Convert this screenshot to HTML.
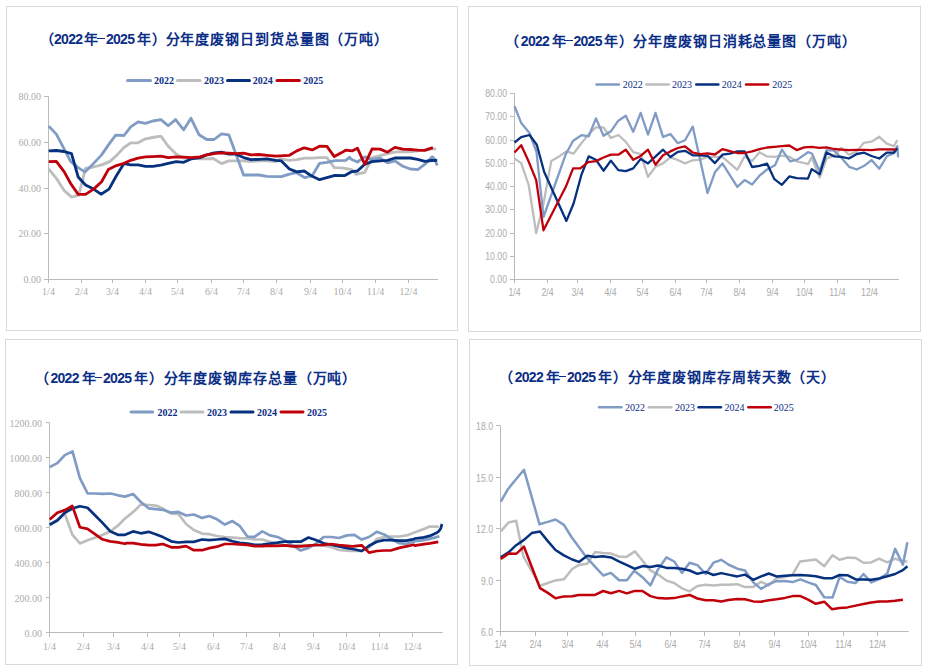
<!DOCTYPE html>
<html lang="zh-CN"><head><meta charset="utf-8"><style>
html,body{margin:0;padding:0;background:#fff;width:928px;height:672px;overflow:hidden}
svg{position:absolute;left:0;top:0}
span{position:absolute;white-space:nowrap;font-family:"Liberation Sans",sans-serif;font-weight:bold;font-size:14px;line-height:16px;color:#0B2E86}
span.d{letter-spacing:-0.7px}
span.m{letter-spacing:0.9px}
i{position:absolute;height:1.6px;background:#0B2E86}
</style></head><body>
<svg width="928" height="672" viewBox="0 0 928 672">
<rect x="6.5" y="6.5" width="451" height="324" fill="#fff" stroke="#D9D9D9" stroke-width="1"/>
<line x1="48.5" y1="96.5" x2="48.5" y2="279.5" stroke="#BABABA" stroke-width="1"/>
<line x1="44.0" y1="279.5" x2="438.0" y2="279.5" stroke="#BABABA" stroke-width="1"/>
<line x1="44.0" y1="279.5" x2="48.5" y2="279.5" stroke="#BABABA" stroke-width="1"/>
<text x="41.0" y="282.6" text-anchor="end" font-family="'Liberation Serif', serif" font-size="10" fill="#ABABAB">0.00</text>
<line x1="44.0" y1="233.5" x2="48.5" y2="233.5" stroke="#BABABA" stroke-width="1"/>
<text x="41.0" y="236.6" text-anchor="end" font-family="'Liberation Serif', serif" font-size="10" fill="#ABABAB">20.00</text>
<line x1="44.0" y1="188.5" x2="48.5" y2="188.5" stroke="#BABABA" stroke-width="1"/>
<text x="41.0" y="191.6" text-anchor="end" font-family="'Liberation Serif', serif" font-size="10" fill="#ABABAB">40.00</text>
<line x1="44.0" y1="142.5" x2="48.5" y2="142.5" stroke="#BABABA" stroke-width="1"/>
<text x="41.0" y="145.6" text-anchor="end" font-family="'Liberation Serif', serif" font-size="10" fill="#ABABAB">60.00</text>
<line x1="44.0" y1="96.5" x2="48.5" y2="96.5" stroke="#BABABA" stroke-width="1"/>
<text x="41.0" y="99.6" text-anchor="end" font-family="'Liberation Serif', serif" font-size="10" fill="#ABABAB">80.00</text>
<line x1="48.5" y1="279.5" x2="48.5" y2="283.0" stroke="#BABABA" stroke-width="1"/>
<text x="48.5" y="295.0" text-anchor="middle" font-family="'Liberation Serif', serif" font-size="10" fill="#ABABAB">1/4</text>
<line x1="81.5" y1="279.5" x2="81.5" y2="283.0" stroke="#BABABA" stroke-width="1"/>
<text x="81.5" y="295.0" text-anchor="middle" font-family="'Liberation Serif', serif" font-size="10" fill="#ABABAB">2/4</text>
<line x1="112.5" y1="279.5" x2="112.5" y2="283.0" stroke="#BABABA" stroke-width="1"/>
<text x="112.5" y="295.0" text-anchor="middle" font-family="'Liberation Serif', serif" font-size="10" fill="#ABABAB">3/4</text>
<line x1="145.5" y1="279.5" x2="145.5" y2="283.0" stroke="#BABABA" stroke-width="1"/>
<text x="145.5" y="295.0" text-anchor="middle" font-family="'Liberation Serif', serif" font-size="10" fill="#ABABAB">4/4</text>
<line x1="177.5" y1="279.5" x2="177.5" y2="283.0" stroke="#BABABA" stroke-width="1"/>
<text x="177.5" y="295.0" text-anchor="middle" font-family="'Liberation Serif', serif" font-size="10" fill="#ABABAB">5/4</text>
<line x1="211.5" y1="279.5" x2="211.5" y2="283.0" stroke="#BABABA" stroke-width="1"/>
<text x="211.5" y="295.0" text-anchor="middle" font-family="'Liberation Serif', serif" font-size="10" fill="#ABABAB">6/4</text>
<line x1="243.5" y1="279.5" x2="243.5" y2="283.0" stroke="#BABABA" stroke-width="1"/>
<text x="243.5" y="295.0" text-anchor="middle" font-family="'Liberation Serif', serif" font-size="10" fill="#ABABAB">7/4</text>
<line x1="276.5" y1="279.5" x2="276.5" y2="283.0" stroke="#BABABA" stroke-width="1"/>
<text x="276.5" y="295.0" text-anchor="middle" font-family="'Liberation Serif', serif" font-size="10" fill="#ABABAB">8/4</text>
<line x1="310.5" y1="279.5" x2="310.5" y2="283.0" stroke="#BABABA" stroke-width="1"/>
<text x="310.5" y="295.0" text-anchor="middle" font-family="'Liberation Serif', serif" font-size="10" fill="#ABABAB">9/4</text>
<line x1="342.5" y1="279.5" x2="342.5" y2="283.0" stroke="#BABABA" stroke-width="1"/>
<text x="342.5" y="295.0" text-anchor="middle" font-family="'Liberation Serif', serif" font-size="10" fill="#ABABAB">10/4</text>
<line x1="375.5" y1="279.5" x2="375.5" y2="283.0" stroke="#BABABA" stroke-width="1"/>
<text x="375.5" y="295.0" text-anchor="middle" font-family="'Liberation Serif', serif" font-size="10" fill="#ABABAB">11/4</text>
<line x1="408.5" y1="279.5" x2="408.5" y2="283.0" stroke="#BABABA" stroke-width="1"/>
<text x="408.5" y="295.0" text-anchor="middle" font-family="'Liberation Serif', serif" font-size="10" fill="#ABABAB">12/4</text>
<line x1="127.5" y1="80.5" x2="150.5" y2="80.5" stroke="#809BC4" stroke-width="3" stroke-linecap="round"/>
<text x="154" y="84.1" font-family="Liberation Serif, serif" font-weight="bold" font-size="10" fill="#0B2E86">2022</text>
<line x1="177.5" y1="80.5" x2="200" y2="80.5" stroke="#BDBDBD" stroke-width="3" stroke-linecap="round"/>
<text x="204" y="84.1" font-family="Liberation Serif, serif" font-weight="bold" font-size="10" fill="#0B2E86">2023</text>
<line x1="227.5" y1="80.5" x2="249.5" y2="80.5" stroke="#06317F" stroke-width="3" stroke-linecap="round"/>
<text x="252.8" y="84.1" font-family="Liberation Serif, serif" font-weight="bold" font-size="10" fill="#0B2E86">2024</text>
<line x1="277" y1="80.5" x2="299.3" y2="80.5" stroke="#BF000B" stroke-width="3" stroke-linecap="round"/>
<text x="303.3" y="84.1" font-family="Liberation Serif, serif" font-weight="bold" font-size="10" fill="#0B2E86">2025</text>
<polyline points="48.7,169.0 56.3,178.3 64.1,190.4 71.5,197.1 78.8,195.1 85.5,168.3 93.6,167.0 101.6,164.9 109.7,161.6 116.4,155.6 124.0,147.5 130.7,142.8 138.1,142.8 145.5,138.8 152.8,137.5 160.9,136.1 168.2,146.2 176.3,154.2 183.7,158.2 191.0,158.2 200.0,158.9 206.7,158.9 213.4,158.5 221.5,163.6 228.8,160.9 236.2,160.9 243.6,160.9 250.9,161.6 259.0,160.9 267.0,160.9 276.0,161.6 280.0,158.9 289.4,160.3 296.8,159.6 304.8,158.2 312.2,158.2 319.6,157.6 326.9,157.6 334.3,167.6 341.7,167.9 352.0,169.6 356.0,174.3 364.8,172.3 372.1,157.6 380.2,155.6 387.5,153.6 394.9,152.2 402.9,151.5 409.4,151.8 417.5,150.8 424.8,150.1 430.9,149.1 436.2,148.8" fill="none" stroke="#BDBDBD" stroke-width="2.8" stroke-linejoin="round" stroke-linecap="butt"/>
<polyline points="48.7,126.1 56.3,134.1 64.1,148.9 70.8,161.6 78.2,167.6 84.9,171.9 92.2,164.9 101.6,154.9 108.3,145.1 115.7,135.2 124.0,135.5 130.7,126.8 138.1,121.8 145.5,123.4 152.8,121.0 160.9,119.6 168.2,125.8 175.6,119.6 183.7,129.8 191.0,118.3 199.1,134.8 206.7,139.5 214.1,139.5 221.5,133.9 228.8,134.8 243.6,175.0 250.9,175.0 259.0,175.0 267.0,176.3 277.4,176.7 281.4,176.7 289.4,174.1 296.8,172.7 304.8,177.7 312.2,175.7 319.6,163.3 326.9,162.3 335.0,160.7 345.7,160.3 349.7,157.2 350.7,158.9 357.4,162.0 364.8,156.9 372.1,159.6 380.2,158.2 387.5,162.9 394.9,160.9 402.9,166.3 410.3,169.0 417.7,169.6 425.7,163.6 432.2,156.8 434.9,159.5 437.2,165.5" fill="none" stroke="#809BC4" stroke-width="2.8" stroke-linejoin="round" stroke-linecap="butt"/>
<polyline points="48.7,150.9 56.3,150.5 64.1,151.5 71.5,153.6 78.2,177.0 85.5,185.0 93.6,189.1 101.0,194.2 109.0,189.1 116.4,175.7 124.0,163.6 130.7,164.9 138.1,164.9 145.5,166.3 152.8,166.3 160.9,165.2 168.2,163.3 176.3,161.6 183.7,162.3 191.0,158.9 200.0,157.6 206.7,154.9 214.1,152.9 221.5,152.2 228.8,154.2 236.2,154.2 243.6,157.6 250.9,159.6 259.0,159.3 267.0,158.9 276.0,160.3 281.4,160.9 289.4,169.0 296.8,171.9 304.2,171.0 312.2,176.3 319.6,179.7 326.9,177.7 335.0,175.4 344.4,175.7 352.0,171.6 357.4,171.0 364.8,164.3 372.1,161.6 380.2,160.9 387.5,160.3 394.9,158.0 402.9,158.0 410.3,158.0 417.7,159.3 424.8,161.3 431.5,160.5 437.2,160.3" fill="none" stroke="#06317F" stroke-width="2.8" stroke-linejoin="round" stroke-linecap="butt"/>
<polyline points="48.7,161.6 56.3,161.3 64.1,171.6 70.8,183.7 78.2,194.4 85.5,194.4 93.6,189.1 101.6,181.7 108.3,169.6 116.4,165.6 124.0,163.3 130.7,160.3 138.1,158.2 145.5,156.9 152.8,156.6 160.9,156.2 168.2,157.6 176.3,156.9 183.7,157.2 191.0,157.6 200.0,156.9 206.7,154.9 214.1,153.6 221.5,152.9 228.8,153.1 236.2,153.6 243.6,153.1 250.9,154.9 259.0,154.5 267.0,155.3 276.0,156.2 280.0,155.8 289.4,155.3 296.8,150.9 304.2,147.8 312.2,149.9 319.6,146.2 326.9,146.4 334.3,156.6 341.7,152.6 345.7,150.2 352.0,150.9 357.4,148.2 364.8,164.3 372.1,148.9 380.2,149.1 387.5,152.2 394.9,147.3 402.9,149.1 410.3,149.5 417.7,150.2 424.8,150.4 428.2,149.1 432.9,147.7" fill="none" stroke="#BF000B" stroke-width="2.8" stroke-linejoin="round" stroke-linecap="butt"/>
<rect x="468.5" y="6.5" width="452" height="325" fill="#fff" stroke="#D9D9D9" stroke-width="1"/>
<line x1="514.5" y1="93.5" x2="514.5" y2="279.5" stroke="#BABABA" stroke-width="1"/>
<line x1="510.0" y1="279.5" x2="899.0" y2="279.5" stroke="#BABABA" stroke-width="1"/>
<line x1="510.0" y1="279.5" x2="514.5" y2="279.5" stroke="#BABABA" stroke-width="1"/>
<text transform="translate(507.0,283.1) scale(0.87,1)" text-anchor="end" font-family="'Liberation Sans', sans-serif" font-size="10" fill="#ABABAB">0.00</text>
<line x1="510.0" y1="256.5" x2="514.5" y2="256.5" stroke="#BABABA" stroke-width="1"/>
<text transform="translate(507.0,260.1) scale(0.87,1)" text-anchor="end" font-family="'Liberation Sans', sans-serif" font-size="10" fill="#ABABAB">10.00</text>
<line x1="510.0" y1="233.5" x2="514.5" y2="233.5" stroke="#BABABA" stroke-width="1"/>
<text transform="translate(507.0,237.1) scale(0.87,1)" text-anchor="end" font-family="'Liberation Sans', sans-serif" font-size="10" fill="#ABABAB">20.00</text>
<line x1="510.0" y1="209.5" x2="514.5" y2="209.5" stroke="#BABABA" stroke-width="1"/>
<text transform="translate(507.0,213.1) scale(0.87,1)" text-anchor="end" font-family="'Liberation Sans', sans-serif" font-size="10" fill="#ABABAB">30.00</text>
<line x1="510.0" y1="186.5" x2="514.5" y2="186.5" stroke="#BABABA" stroke-width="1"/>
<text transform="translate(507.0,190.1) scale(0.87,1)" text-anchor="end" font-family="'Liberation Sans', sans-serif" font-size="10" fill="#ABABAB">40.00</text>
<line x1="510.0" y1="163.5" x2="514.5" y2="163.5" stroke="#BABABA" stroke-width="1"/>
<text transform="translate(507.0,167.1) scale(0.87,1)" text-anchor="end" font-family="'Liberation Sans', sans-serif" font-size="10" fill="#ABABAB">50.00</text>
<line x1="510.0" y1="140.5" x2="514.5" y2="140.5" stroke="#BABABA" stroke-width="1"/>
<text transform="translate(507.0,144.1) scale(0.87,1)" text-anchor="end" font-family="'Liberation Sans', sans-serif" font-size="10" fill="#ABABAB">60.00</text>
<line x1="510.0" y1="116.5" x2="514.5" y2="116.5" stroke="#BABABA" stroke-width="1"/>
<text transform="translate(507.0,120.1) scale(0.87,1)" text-anchor="end" font-family="'Liberation Sans', sans-serif" font-size="10" fill="#ABABAB">70.00</text>
<line x1="510.0" y1="93.5" x2="514.5" y2="93.5" stroke="#BABABA" stroke-width="1"/>
<text transform="translate(507.0,97.1) scale(0.87,1)" text-anchor="end" font-family="'Liberation Sans', sans-serif" font-size="10" fill="#ABABAB">80.00</text>
<line x1="514.5" y1="279.5" x2="514.5" y2="283.0" stroke="#BABABA" stroke-width="1"/>
<text transform="translate(514.5,295.7) scale(0.87,1)" text-anchor="middle" font-family="'Liberation Sans', sans-serif" font-size="10" fill="#ABABAB">1/4</text>
<line x1="547.5" y1="279.5" x2="547.5" y2="283.0" stroke="#BABABA" stroke-width="1"/>
<text transform="translate(547.5,295.7) scale(0.87,1)" text-anchor="middle" font-family="'Liberation Sans', sans-serif" font-size="10" fill="#ABABAB">2/4</text>
<line x1="577.5" y1="279.5" x2="577.5" y2="283.0" stroke="#BABABA" stroke-width="1"/>
<text transform="translate(577.5,295.7) scale(0.87,1)" text-anchor="middle" font-family="'Liberation Sans', sans-serif" font-size="10" fill="#ABABAB">3/4</text>
<line x1="610.5" y1="279.5" x2="610.5" y2="283.0" stroke="#BABABA" stroke-width="1"/>
<text transform="translate(610.5,295.7) scale(0.87,1)" text-anchor="middle" font-family="'Liberation Sans', sans-serif" font-size="10" fill="#ABABAB">4/4</text>
<line x1="642.5" y1="279.5" x2="642.5" y2="283.0" stroke="#BABABA" stroke-width="1"/>
<text transform="translate(642.5,295.7) scale(0.87,1)" text-anchor="middle" font-family="'Liberation Sans', sans-serif" font-size="10" fill="#ABABAB">5/4</text>
<line x1="675.5" y1="279.5" x2="675.5" y2="283.0" stroke="#BABABA" stroke-width="1"/>
<text transform="translate(675.5,295.7) scale(0.87,1)" text-anchor="middle" font-family="'Liberation Sans', sans-serif" font-size="10" fill="#ABABAB">6/4</text>
<line x1="706.5" y1="279.5" x2="706.5" y2="283.0" stroke="#BABABA" stroke-width="1"/>
<text transform="translate(706.5,295.7) scale(0.87,1)" text-anchor="middle" font-family="'Liberation Sans', sans-serif" font-size="10" fill="#ABABAB">7/4</text>
<line x1="739.5" y1="279.5" x2="739.5" y2="283.0" stroke="#BABABA" stroke-width="1"/>
<text transform="translate(739.5,295.7) scale(0.87,1)" text-anchor="middle" font-family="'Liberation Sans', sans-serif" font-size="10" fill="#ABABAB">8/4</text>
<line x1="772.5" y1="279.5" x2="772.5" y2="283.0" stroke="#BABABA" stroke-width="1"/>
<text transform="translate(772.5,295.7) scale(0.87,1)" text-anchor="middle" font-family="'Liberation Sans', sans-serif" font-size="10" fill="#ABABAB">9/4</text>
<line x1="804.5" y1="279.5" x2="804.5" y2="283.0" stroke="#BABABA" stroke-width="1"/>
<text transform="translate(804.5,295.7) scale(0.87,1)" text-anchor="middle" font-family="'Liberation Sans', sans-serif" font-size="10" fill="#ABABAB">10/4</text>
<line x1="837.5" y1="279.5" x2="837.5" y2="283.0" stroke="#BABABA" stroke-width="1"/>
<text transform="translate(837.5,295.7) scale(0.87,1)" text-anchor="middle" font-family="'Liberation Sans', sans-serif" font-size="10" fill="#ABABAB">11/4</text>
<line x1="869.5" y1="279.5" x2="869.5" y2="283.0" stroke="#BABABA" stroke-width="1"/>
<text transform="translate(869.5,295.7) scale(0.87,1)" text-anchor="middle" font-family="'Liberation Sans', sans-serif" font-size="10" fill="#ABABAB">12/4</text>
<line x1="596.5" y1="84.5" x2="619" y2="84.5" stroke="#809BC4" stroke-width="2.4" stroke-linecap="round"/>
<text x="622.8" y="88.1" font-family="Liberation Serif, serif" font-weight="normal" font-size="10" fill="#0B2E86">2022</text>
<line x1="646.4" y1="84.5" x2="668.7" y2="84.5" stroke="#BDBDBD" stroke-width="2.4" stroke-linecap="round"/>
<text x="671.9" y="88.1" font-family="Liberation Serif, serif" font-weight="normal" font-size="10" fill="#0B2E86">2023</text>
<line x1="696.2" y1="84.5" x2="718.4" y2="84.5" stroke="#06317F" stroke-width="2.4" stroke-linecap="round"/>
<text x="721.7" y="88.1" font-family="Liberation Serif, serif" font-weight="normal" font-size="10" fill="#0B2E86">2024</text>
<line x1="746" y1="84.5" x2="768.2" y2="84.5" stroke="#BF000B" stroke-width="2.4" stroke-linecap="round"/>
<text x="772.2" y="88.1" font-family="Liberation Serif, serif" font-weight="normal" font-size="10" fill="#0B2E86">2025</text>
<polyline points="514.5,158.6 521.2,163.1 528.7,185.0 536.2,233.1 543.6,203.0 551.3,160.9 559.1,156.4 566.4,151.4 573.6,153.6 581.5,143.0 588.7,134.1 596.0,127.4 603.5,127.4 610.9,138.0 618.3,135.0 625.8,141.9 633.2,152.2 640.7,154.2 648.0,176.8 655.5,166.7 663.0,163.4 670.4,157.3 677.8,160.0 685.0,163.4 692.7,160.3 700.1,159.7 707.5,156.9 722.4,156.9 737.3,169.8 744.6,156.4 752.1,160.9 759.5,152.3 767.0,156.4 774.4,156.8 781.9,155.7 789.3,156.8 796.7,161.3 804.2,163.0 808.0,164.1 811.7,157.4 819.7,177.5 826.5,158.5 834.0,155.7 841.4,147.9 848.9,154.6 856.4,151.9 863.7,142.9 871.5,141.7 879.3,136.8 886.7,143.7 894.0,146.2 897.3,140.1" fill="none" stroke="#BDBDBD" stroke-width="2.3" stroke-linejoin="round" stroke-linecap="butt"/>
<polyline points="514.5,106.2 521.2,122.9 529.5,133.0 536.5,152.0 543.5,217.0 565.8,154.2 573.1,140.8 581.5,135.2 588.7,136.3 596.0,118.4 603.5,135.8 610.9,131.3 618.3,120.7 625.8,115.7 633.2,131.8 640.7,112.9 648.0,134.6 655.5,112.9 663.0,136.9 670.4,134.1 677.8,143.2 685.0,140.2 692.7,126.6 707.5,193.0 714.9,172.3 722.4,163.4 737.3,186.8 744.6,180.1 752.1,184.6 759.5,175.7 767.0,169.5 775.0,165.2 781.9,149.6 790.1,161.3 797.4,159.6 808.0,152.2 811.9,153.5 819.7,171.4 826.5,150.1 834.2,150.7 842.0,158.5 849.3,166.9 856.8,169.5 864.2,165.8 871.5,160.1 879.3,168.7 887.1,156.0 893.2,153.6 897.3,146.2 898.1,157.3" fill="none" stroke="#809BC4" stroke-width="2.3" stroke-linejoin="round" stroke-linecap="butt"/>
<polyline points="514.5,142.5 521.2,137.2 529.5,135.0 536.8,144.7 544.2,172.0 566.4,220.9 573.6,203.5 581.5,174.5 588.7,156.4 596.0,159.8 603.5,170.7 610.9,160.6 618.3,170.1 625.8,171.2 633.2,168.4 640.7,158.9 648.0,163.4 663.0,149.7 670.4,157.0 677.8,151.9 685.1,150.8 692.7,155.3 700.1,155.3 707.5,155.8 714.9,163.1 722.4,154.7 729.8,153.6 737.3,151.4 744.6,151.4 752.1,167.0 759.5,165.9 767.0,163.6 774.4,179.2 781.9,184.8 789.3,176.4 796.7,178.1 807.9,178.6 811.7,169.1 819.7,174.2 826.5,152.4 834.0,156.3 841.4,156.8 848.9,158.5 856.8,154.0 864.2,152.7 871.5,156.0 879.3,158.5 886.7,152.7 894.0,152.7 897.3,148.2" fill="none" stroke="#06317F" stroke-width="2.3" stroke-linejoin="round" stroke-linecap="butt"/>
<polyline points="514.5,152.5 521.2,145.2 528.0,160.0 536.2,180.1 543.5,230.3 565.8,186.8 573.1,168.4 580.3,168.4 588.2,162.2 596.0,161.1 603.5,157.5 610.9,154.7 618.3,154.7 625.8,149.7 633.2,159.8 640.7,155.9 648.0,149.7 655.5,164.8 663.0,155.3 670.4,151.4 677.8,148.0 685.0,146.4 692.7,152.5 700.1,154.2 707.5,153.4 714.9,154.5 722.4,149.1 729.8,151.1 737.3,153.0 744.6,153.0 752.1,151.4 759.5,149.1 767.0,147.5 774.4,146.8 781.9,146.2 789.3,145.5 796.7,150.1 804.2,147.4 811.7,146.8 819.0,147.9 826.5,147.4 834.0,149.0 841.4,149.6 848.9,150.1 856.8,149.9 864.2,149.9 871.5,150.1 879.3,149.3 886.7,149.3 894.0,149.5 895.7,149.1" fill="none" stroke="#BF000B" stroke-width="2.3" stroke-linejoin="round" stroke-linecap="butt"/>
<rect x="5.5" y="339.5" width="452" height="325" fill="#fff" stroke="#D9D9D9" stroke-width="1"/>
<line x1="49.5" y1="422.5" x2="49.5" y2="632.5" stroke="#BABABA" stroke-width="1"/>
<line x1="46.0" y1="632.5" x2="442.70000000000005" y2="632.5" stroke="#BABABA" stroke-width="1"/>
<line x1="46.0" y1="632.5" x2="49.5" y2="632.5" stroke="#BABABA" stroke-width="1"/>
<text x="42.0" y="636.6" text-anchor="end" font-family="'Liberation Serif', serif" font-size="10" fill="#ABABAB">0.00</text>
<line x1="46.0" y1="597.5" x2="49.5" y2="597.5" stroke="#BABABA" stroke-width="1"/>
<text x="42.0" y="601.6" text-anchor="end" font-family="'Liberation Serif', serif" font-size="10" fill="#ABABAB">200.00</text>
<line x1="46.0" y1="562.5" x2="49.5" y2="562.5" stroke="#BABABA" stroke-width="1"/>
<text x="42.0" y="566.6" text-anchor="end" font-family="'Liberation Serif', serif" font-size="10" fill="#ABABAB">400.00</text>
<line x1="46.0" y1="527.5" x2="49.5" y2="527.5" stroke="#BABABA" stroke-width="1"/>
<text x="42.0" y="531.6" text-anchor="end" font-family="'Liberation Serif', serif" font-size="10" fill="#ABABAB">600.00</text>
<line x1="46.0" y1="492.5" x2="49.5" y2="492.5" stroke="#BABABA" stroke-width="1"/>
<text x="42.0" y="496.6" text-anchor="end" font-family="'Liberation Serif', serif" font-size="10" fill="#ABABAB">800.00</text>
<line x1="46.0" y1="457.5" x2="49.5" y2="457.5" stroke="#BABABA" stroke-width="1"/>
<text x="42.0" y="461.6" text-anchor="end" font-family="'Liberation Serif', serif" font-size="10" fill="#ABABAB">1000.00</text>
<line x1="46.0" y1="422.5" x2="49.5" y2="422.5" stroke="#BABABA" stroke-width="1"/>
<text x="42.0" y="426.6" text-anchor="end" font-family="'Liberation Serif', serif" font-size="10" fill="#ABABAB">1200.00</text>
<line x1="49.5" y1="632.5" x2="49.5" y2="637.0" stroke="#BABABA" stroke-width="1"/>
<text x="49.5" y="649.5" text-anchor="middle" font-family="'Liberation Serif', serif" font-size="10" fill="#ABABAB">1/4</text>
<line x1="83.5" y1="632.5" x2="83.5" y2="637.0" stroke="#BABABA" stroke-width="1"/>
<text x="83.5" y="649.5" text-anchor="middle" font-family="'Liberation Serif', serif" font-size="10" fill="#ABABAB">2/4</text>
<line x1="113.5" y1="632.5" x2="113.5" y2="637.0" stroke="#BABABA" stroke-width="1"/>
<text x="113.5" y="649.5" text-anchor="middle" font-family="'Liberation Serif', serif" font-size="10" fill="#ABABAB">3/4</text>
<line x1="147.5" y1="632.5" x2="147.5" y2="637.0" stroke="#BABABA" stroke-width="1"/>
<text x="147.5" y="649.5" text-anchor="middle" font-family="'Liberation Serif', serif" font-size="10" fill="#ABABAB">4/4</text>
<line x1="179.5" y1="632.5" x2="179.5" y2="637.0" stroke="#BABABA" stroke-width="1"/>
<text x="179.5" y="649.5" text-anchor="middle" font-family="'Liberation Serif', serif" font-size="10" fill="#ABABAB">5/4</text>
<line x1="213.5" y1="632.5" x2="213.5" y2="637.0" stroke="#BABABA" stroke-width="1"/>
<text x="213.5" y="649.5" text-anchor="middle" font-family="'Liberation Serif', serif" font-size="10" fill="#ABABAB">6/4</text>
<line x1="246.5" y1="632.5" x2="246.5" y2="637.0" stroke="#BABABA" stroke-width="1"/>
<text x="246.5" y="649.5" text-anchor="middle" font-family="'Liberation Serif', serif" font-size="10" fill="#ABABAB">7/4</text>
<line x1="279.5" y1="632.5" x2="279.5" y2="637.0" stroke="#BABABA" stroke-width="1"/>
<text x="279.5" y="649.5" text-anchor="middle" font-family="'Liberation Serif', serif" font-size="10" fill="#ABABAB">8/4</text>
<line x1="313.5" y1="632.5" x2="313.5" y2="637.0" stroke="#BABABA" stroke-width="1"/>
<text x="313.5" y="649.5" text-anchor="middle" font-family="'Liberation Serif', serif" font-size="10" fill="#ABABAB">9/4</text>
<line x1="346.5" y1="632.5" x2="346.5" y2="637.0" stroke="#BABABA" stroke-width="1"/>
<text x="346.5" y="649.5" text-anchor="middle" font-family="'Liberation Serif', serif" font-size="10" fill="#ABABAB">10/4</text>
<line x1="379.5" y1="632.5" x2="379.5" y2="637.0" stroke="#BABABA" stroke-width="1"/>
<text x="379.5" y="649.5" text-anchor="middle" font-family="'Liberation Serif', serif" font-size="10" fill="#ABABAB">11/4</text>
<line x1="412.5" y1="632.5" x2="412.5" y2="637.0" stroke="#BABABA" stroke-width="1"/>
<text x="412.5" y="649.5" text-anchor="middle" font-family="'Liberation Serif', serif" font-size="10" fill="#ABABAB">12/4</text>
<line x1="131" y1="412" x2="152.7" y2="412" stroke="#809BC4" stroke-width="3" stroke-linecap="round"/>
<text x="157.4" y="415.6" font-family="Liberation Serif, serif" font-weight="bold" font-size="10" fill="#0B2E86">2022</text>
<line x1="181" y1="412" x2="203" y2="412" stroke="#BDBDBD" stroke-width="3" stroke-linecap="round"/>
<text x="207" y="415.6" font-family="Liberation Serif, serif" font-weight="bold" font-size="10" fill="#0B2E86">2023</text>
<line x1="231" y1="412" x2="253" y2="412" stroke="#06317F" stroke-width="3" stroke-linecap="round"/>
<text x="257" y="415.6" font-family="Liberation Serif, serif" font-weight="bold" font-size="10" fill="#0B2E86">2024</text>
<line x1="281" y1="412" x2="303" y2="412" stroke="#BF000B" stroke-width="3" stroke-linecap="round"/>
<text x="307" y="415.6" font-family="Liberation Serif, serif" font-weight="bold" font-size="10" fill="#0B2E86">2025</text>
<polyline points="49.7,524.2 57.3,519.8 64.8,513.8 72.3,534.6 79.9,543.4 87.5,540.3 95.0,537.7 102.3,535.1 110.1,531.5 117.9,525.7 125.0,518.4 127.1,516.9 134.3,511.0 140.8,504.4 148.6,505.0 155.7,505.6 162.9,508.6 171.2,513.7 178.3,513.9 186.1,524.0 193.8,530.0 202.1,533.6 209.3,534.2 217.0,536.0 224.8,537.1 232.5,537.7 239.6,538.1 247.4,538.3 254.5,539.3 262.3,539.5 270.0,541.9 277.6,544.3 285.2,545.0 292.9,545.3 300.7,545.0 308.5,545.3 315.8,545.3 324.2,545.6 332.5,547.4 338.8,550.0 350.0,551.0 361.7,551.0 369.0,547.9 376.8,539.1 384.1,537.0 390.8,536.5 399.2,536.5 406.5,535.4 413.8,532.8 425.0,528.6 429.8,526.6 438.7,526.6" fill="none" stroke="#BDBDBD" stroke-width="2.7" stroke-linejoin="round" stroke-linecap="butt"/>
<polyline points="49.7,467.1 57.3,463.1 64.8,455.1 72.5,451.4 79.8,477.8 87.6,493.5 95.3,493.5 102.6,493.9 110.7,493.5 118.0,495.3 125.0,496.6 133.1,494.0 140.8,502.0 148.6,508.3 155.7,509.2 162.9,509.8 171.2,512.7 178.3,511.9 186.1,515.5 193.8,514.5 202.1,517.9 209.3,516.0 217.0,519.3 224.8,524.6 232.5,521.1 239.6,525.8 247.4,536.5 254.5,536.9 262.3,531.4 270.0,535.4 277.6,537.0 285.2,540.6 300.7,550.5 308.5,547.9 315.8,543.8 323.6,537.0 331.5,537.0 338.8,538.0 347.1,535.4 354.4,534.9 361.7,539.6 369.0,537.0 376.8,531.8 384.1,534.4 390.8,538.5 399.2,543.2 406.5,543.8 413.8,541.7 414.9,541.1 422.3,540.3 429.8,538.9 435.7,537.4 439.4,536.2" fill="none" stroke="#809BC4" stroke-width="2.7" stroke-linejoin="round" stroke-linecap="butt"/>
<polyline points="49.7,524.7 57.3,520.5 64.8,512.7 72.3,508.5 79.9,506.2 87.5,507.7 95.0,515.3 102.3,522.6 110.1,531.2 117.9,534.8 125.0,534.8 133.1,531.4 140.8,533.3 148.6,531.8 155.7,534.2 162.9,537.1 171.2,541.3 178.3,542.5 186.1,541.9 193.8,541.9 202.1,539.5 209.3,540.1 217.0,539.5 224.8,538.9 232.5,541.3 239.6,542.9 247.4,543.7 254.5,544.9 262.3,544.5 270.0,543.7 277.6,542.7 285.2,541.5 292.9,541.7 300.7,541.7 308.5,537.5 315.8,540.1 323.6,543.2 331.5,544.8 338.8,546.4 347.1,548.1 352.6,549.0 361.7,551.0 369.0,545.8 376.8,541.7 384.1,540.1 390.8,540.1 399.2,540.6 406.5,540.6 413.8,539.1 414.9,538.5 422.3,537.7 429.8,535.9 435.7,533.3 438.7,531.4 440.6,528.8 442.0,524.0" fill="none" stroke="#06317F" stroke-width="2.7" stroke-linejoin="round" stroke-linecap="butt"/>
<polyline points="49.7,519.5 57.3,512.7 64.8,510.1 72.3,505.9 79.9,527.3 87.5,528.9 95.0,534.1 102.3,539.3 110.1,541.4 117.9,542.4 125.0,543.8 126.0,543.1 133.1,543.1 140.8,544.3 148.6,545.2 155.7,545.2 162.9,544.0 171.2,547.3 178.3,547.3 186.1,546.1 193.8,550.2 202.1,550.2 209.3,548.1 217.0,546.7 224.8,544.0 232.5,544.0 239.6,544.3 247.4,544.9 254.5,546.1 262.3,546.1 270.0,545.7 277.6,545.8 285.2,545.3 292.9,546.4 300.7,546.4 308.5,545.6 315.8,545.0 323.6,544.8 331.5,544.0 338.8,545.0 347.1,545.8 352.6,546.4 361.7,545.3 369.0,552.6 376.8,551.0 384.1,550.5 390.8,550.5 399.2,547.9 406.5,546.4 413.8,544.8 414.9,545.6 422.3,544.4 429.8,543.3 438.3,541.8" fill="none" stroke="#BF000B" stroke-width="2.7" stroke-linejoin="round" stroke-linecap="butt"/>
<rect x="469.5" y="339.5" width="452" height="326" fill="#fff" stroke="#D9D9D9" stroke-width="1"/>
<line x1="500.5" y1="425.5" x2="500.5" y2="631.5" stroke="#BABABA" stroke-width="1"/>
<line x1="496.0" y1="631.5" x2="908.8" y2="631.5" stroke="#BABABA" stroke-width="1"/>
<line x1="496.0" y1="631.5" x2="500.5" y2="631.5" stroke="#BABABA" stroke-width="1"/>
<text transform="translate(493.0,636.1) scale(0.87,1)" text-anchor="end" font-family="'Liberation Sans', sans-serif" font-size="10" fill="#ABABAB">6.0</text>
<line x1="496.0" y1="580.5" x2="500.5" y2="580.5" stroke="#BABABA" stroke-width="1"/>
<text transform="translate(493.0,585.1) scale(0.87,1)" text-anchor="end" font-family="'Liberation Sans', sans-serif" font-size="10" fill="#ABABAB">9.0</text>
<line x1="496.0" y1="528.5" x2="500.5" y2="528.5" stroke="#BABABA" stroke-width="1"/>
<text transform="translate(493.0,533.1) scale(0.87,1)" text-anchor="end" font-family="'Liberation Sans', sans-serif" font-size="10" fill="#ABABAB">12.0</text>
<line x1="496.0" y1="477.5" x2="500.5" y2="477.5" stroke="#BABABA" stroke-width="1"/>
<text transform="translate(493.0,482.1) scale(0.87,1)" text-anchor="end" font-family="'Liberation Sans', sans-serif" font-size="10" fill="#ABABAB">15.0</text>
<line x1="496.0" y1="425.5" x2="500.5" y2="425.5" stroke="#BABABA" stroke-width="1"/>
<text transform="translate(493.0,430.1) scale(0.87,1)" text-anchor="end" font-family="'Liberation Sans', sans-serif" font-size="10" fill="#ABABAB">18.0</text>
<line x1="500.5" y1="631.5" x2="500.5" y2="636.0" stroke="#BABABA" stroke-width="1"/>
<text transform="translate(500.5,648.0) scale(0.87,1)" text-anchor="middle" font-family="'Liberation Sans', sans-serif" font-size="10" fill="#ABABAB">1/4</text>
<line x1="535.5" y1="631.5" x2="535.5" y2="636.0" stroke="#BABABA" stroke-width="1"/>
<text transform="translate(535.5,648.0) scale(0.87,1)" text-anchor="middle" font-family="'Liberation Sans', sans-serif" font-size="10" fill="#ABABAB">2/4</text>
<line x1="567.5" y1="631.5" x2="567.5" y2="636.0" stroke="#BABABA" stroke-width="1"/>
<text transform="translate(567.5,648.0) scale(0.87,1)" text-anchor="middle" font-family="'Liberation Sans', sans-serif" font-size="10" fill="#ABABAB">3/4</text>
<line x1="602.5" y1="631.5" x2="602.5" y2="636.0" stroke="#BABABA" stroke-width="1"/>
<text transform="translate(602.5,648.0) scale(0.87,1)" text-anchor="middle" font-family="'Liberation Sans', sans-serif" font-size="10" fill="#ABABAB">4/4</text>
<line x1="635.5" y1="631.5" x2="635.5" y2="636.0" stroke="#BABABA" stroke-width="1"/>
<text transform="translate(635.5,648.0) scale(0.87,1)" text-anchor="middle" font-family="'Liberation Sans', sans-serif" font-size="10" fill="#ABABAB">5/4</text>
<line x1="670.5" y1="631.5" x2="670.5" y2="636.0" stroke="#BABABA" stroke-width="1"/>
<text transform="translate(670.5,648.0) scale(0.87,1)" text-anchor="middle" font-family="'Liberation Sans', sans-serif" font-size="10" fill="#ABABAB">6/4</text>
<line x1="704.5" y1="631.5" x2="704.5" y2="636.0" stroke="#BABABA" stroke-width="1"/>
<text transform="translate(704.5,648.0) scale(0.87,1)" text-anchor="middle" font-family="'Liberation Sans', sans-serif" font-size="10" fill="#ABABAB">7/4</text>
<line x1="739.5" y1="631.5" x2="739.5" y2="636.0" stroke="#BABABA" stroke-width="1"/>
<text transform="translate(739.5,648.0) scale(0.87,1)" text-anchor="middle" font-family="'Liberation Sans', sans-serif" font-size="10" fill="#ABABAB">8/4</text>
<line x1="774.5" y1="631.5" x2="774.5" y2="636.0" stroke="#BABABA" stroke-width="1"/>
<text transform="translate(774.5,648.0) scale(0.87,1)" text-anchor="middle" font-family="'Liberation Sans', sans-serif" font-size="10" fill="#ABABAB">9/4</text>
<line x1="808.5" y1="631.5" x2="808.5" y2="636.0" stroke="#BABABA" stroke-width="1"/>
<text transform="translate(808.5,648.0) scale(0.87,1)" text-anchor="middle" font-family="'Liberation Sans', sans-serif" font-size="10" fill="#ABABAB">10/4</text>
<line x1="843.5" y1="631.5" x2="843.5" y2="636.0" stroke="#BABABA" stroke-width="1"/>
<text transform="translate(843.5,648.0) scale(0.87,1)" text-anchor="middle" font-family="'Liberation Sans', sans-serif" font-size="10" fill="#ABABAB">11/4</text>
<line x1="877.5" y1="631.5" x2="877.5" y2="636.0" stroke="#BABABA" stroke-width="1"/>
<text transform="translate(877.5,648.0) scale(0.87,1)" text-anchor="middle" font-family="'Liberation Sans', sans-serif" font-size="10" fill="#ABABAB">12/4</text>
<line x1="599" y1="407.2" x2="621.5" y2="407.2" stroke="#809BC4" stroke-width="2.4" stroke-linecap="round"/>
<text x="625" y="410.8" font-family="Liberation Serif, serif" font-weight="normal" font-size="10" fill="#0B2E86">2022</text>
<line x1="648.7" y1="407.2" x2="671.3" y2="407.2" stroke="#BDBDBD" stroke-width="2.4" stroke-linecap="round"/>
<text x="674.9" y="410.8" font-family="Liberation Serif, serif" font-weight="normal" font-size="10" fill="#0B2E86">2023</text>
<line x1="698.5" y1="407.2" x2="721" y2="407.2" stroke="#06317F" stroke-width="2.4" stroke-linecap="round"/>
<text x="724.6" y="410.8" font-family="Liberation Serif, serif" font-weight="normal" font-size="10" fill="#0B2E86">2024</text>
<line x1="748.3" y1="407.2" x2="770.8" y2="407.2" stroke="#BF000B" stroke-width="2.4" stroke-linecap="round"/>
<text x="773.8" y="410.8" font-family="Liberation Serif, serif" font-weight="normal" font-size="10" fill="#0B2E86">2025</text>
<polyline points="500.8,531.4 508.5,522.5 516.2,520.7 523.4,556.5 540.0,585.7 555.5,580.4 563.9,579.2 572.2,569.0 578.9,564.9 587.3,563.7 595.0,552.1 602.7,553.0 611.1,553.6 618.8,556.5 626.5,556.9 634.9,551.4 642.6,560.7 650.0,570.2 658.1,574.6 666.4,580.6 674.2,583.0 681.9,588.3 689.6,591.3 697.4,586.0 705.7,584.8 713.5,585.4 721.2,584.8 728.3,584.8 737.3,584.2 745.0,587.1 753.3,586.9 761.1,581.8 768.8,585.4 776.5,578.2 784.9,577.0 792.6,574.6 800.0,561.5 808.1,560.4 815.8,559.5 824.2,566.3 832.5,555.2 839.6,559.8 847.4,557.6 855.7,558.0 863.5,562.7 871.2,562.4 879.0,558.7 887.3,562.3 895.1,558.7 902.9,561.2 907.4,561.6" fill="none" stroke="#BDBDBD" stroke-width="2.5" stroke-linejoin="round" stroke-linecap="butt"/>
<polyline points="500.8,501.7 507.9,489.2 516.2,479.0 524.0,469.8 539.5,524.3 547.8,521.9 555.5,519.5 563.9,524.9 571.8,537.5 578.9,547.0 586.7,557.7 595.0,566.7 603.2,575.5 610.9,572.9 619.1,580.3 626.9,580.3 634.2,570.8 642.4,577.2 650.4,585.4 658.1,569.3 666.4,557.4 674.2,561.5 681.9,572.9 689.6,562.7 697.4,565.1 705.7,574.0 713.5,562.7 721.2,559.8 728.3,564.5 737.3,568.7 745.0,570.5 753.3,582.4 761.1,588.9 768.8,584.2 776.5,581.2 784.9,581.0 792.6,582.1 800.4,579.4 808.1,582.4 815.8,585.0 824.2,597.3 832.5,597.6 839.6,577.0 847.4,581.8 855.7,583.0 863.5,574.0 871.2,582.4 879.0,579.1 887.3,573.5 895.1,548.9 902.9,564.6 907.4,542.3" fill="none" stroke="#809BC4" stroke-width="2.5" stroke-linejoin="round" stroke-linecap="butt"/>
<polyline points="500.8,557.4 508.5,552.4 516.2,545.2 524.0,539.9 531.7,533.1 540.0,531.5 547.8,541.1 555.5,550.0 563.9,555.4 572.2,559.5 578.9,561.9 587.3,555.7 595.0,556.9 602.7,556.2 611.1,557.4 618.8,561.3 626.5,564.9 634.9,568.8 642.6,566.1 650.4,566.9 658.1,565.5 666.4,567.9 674.2,568.1 681.9,568.7 689.6,570.5 697.4,573.8 705.7,571.9 713.5,575.0 721.2,573.1 728.3,574.6 737.3,576.4 745.0,574.6 753.3,579.8 761.1,576.4 768.8,573.5 776.5,576.4 784.9,575.8 792.6,575.2 800.4,575.0 808.1,575.5 815.8,576.2 824.2,578.2 832.5,578.2 839.6,575.0 847.4,575.2 855.7,579.4 863.5,579.4 871.2,579.8 879.0,578.5 887.3,576.3 895.1,574.0 902.9,570.1 907.4,566.2" fill="none" stroke="#06317F" stroke-width="2.5" stroke-linejoin="round" stroke-linecap="butt"/>
<polyline points="500.8,558.9 508.5,553.6 516.2,553.8 524.0,546.7 531.7,566.7 540.0,588.1 547.8,592.9 555.5,598.2 563.9,596.4 572.2,596.2 578.6,594.9 587.2,594.9 595.0,594.9 603.2,591.0 610.9,593.2 619.1,590.9 626.9,593.4 634.7,590.9 642.4,591.0 650.4,596.1 658.1,598.1 666.4,598.5 674.2,598.1 681.9,596.4 689.6,594.9 697.4,598.5 705.7,600.2 713.5,600.2 721.2,601.4 728.3,600.0 737.3,599.0 745.0,599.3 753.3,601.4 761.1,601.7 768.8,600.2 776.5,599.3 784.9,597.9 792.6,596.1 800.4,596.1 808.1,599.6 815.8,603.8 824.2,601.7 831.9,609.2 839.6,608.0 847.4,607.4 855.7,605.6 863.5,604.0 871.2,602.6 879.0,601.4 887.3,601.4 895.1,600.8 902.9,599.7" fill="none" stroke="#BF000B" stroke-width="2.5" stroke-linejoin="round" stroke-linecap="butt"/>
</svg>
<span class="" style="left:39.6px;top:31px">（</span><span class="d" style="left:54.0px;top:31px">2022</span><span class="" style="left:83.8px;top:31px">年</span><i style="left:97.0px;top:37.7px;width:8.0px"></i><span class="d" style="left:105.9px;top:31px">2025</span><span class="" style="left:136.6px;top:31px">年</span><span class="" style="left:152.0px;top:31px">）</span><span class="m" style="left:165.6px;top:31px">分年度废钢日到货总量图（万吨）</span>
<span class="" style="left:505.4px;top:33px">（</span><span class="d" style="left:520.8px;top:33px">2022</span><span class="" style="left:551.5px;top:33px">年</span><i style="left:563.5px;top:39.7px;width:9.4px"></i><span class="d" style="left:573.4px;top:33px">2025</span><span class="" style="left:604.0px;top:33px">年</span><span class="" style="left:619.0px;top:33px">）</span><span class="m" style="left:633.3px;top:33px">分年度废钢日消耗总量图（万吨）</span>
<span class="" style="left:35.1px;top:370px">（</span><span class="d" style="left:50.4px;top:370px">2022</span><span class="" style="left:81.9px;top:370px">年</span><i style="left:95.0px;top:376.7px;width:7.2px"></i><span class="d" style="left:103.0px;top:370px">2025</span><span class="" style="left:133.8px;top:370px">年</span><span class="" style="left:149.2px;top:370px">）</span><span class="m" style="left:163.6px;top:370px">分年度废钢库存总量（万吨）</span>
<span class="" style="left:498.7px;top:369px">（</span><span class="d" style="left:514.7px;top:369px">2022</span><span class="" style="left:545.5px;top:369px">年</span><i style="left:558.5px;top:375.7px;width:7.3px"></i><span class="d" style="left:567.0px;top:369px">2025</span><span class="" style="left:598.0px;top:369px">年</span><span class="" style="left:613.2px;top:369px">）</span><span class="m" style="left:627.6px;top:369px">分年度废钢库存周转天数（天）</span>
</body></html>
